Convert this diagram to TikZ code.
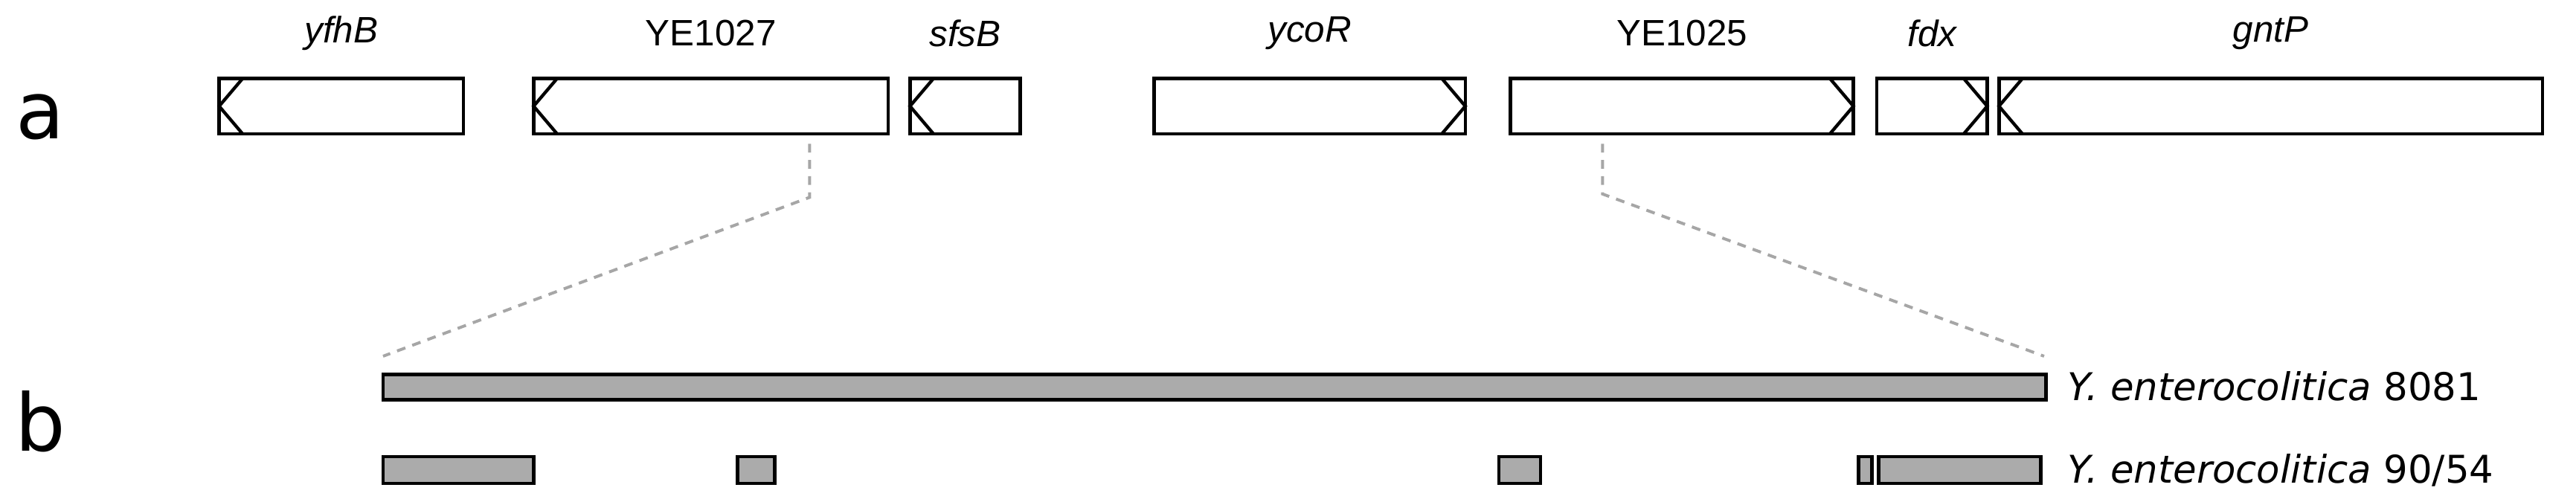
\documentclass[tikz,border=0pt]{standalone}
\usepackage{fontspec}
\setmainfont{Liberation Sans}
\newfontfamily\dv{DejaVu Sans}
\begin{document}
\begin{tikzpicture}[x=0.02cm,y=-0.02cm,
  gene/.style={draw=black,line width=1.2pt,fill=white},
  chev/.style={line width=1.1pt},
  bar/.style={draw=black,line width=1.2pt,fill=black!33},
  glab/.style={font=\fontsize{12.5}{14}\selectfont},
  slab/.style={font=\dv\fontsize{13}{15}\selectfont,anchor=west},
  big/.style={font=\dv\fontsize{27}{30}\selectfont},
  zoomline/.style={draw=black!35,line width=1pt,dash pattern=on 3pt off 2.5pt}]
\useasboundingbox (0,0) rectangle (1540,300);
\def\gL#1#2#3#4{\draw[gene] (#2,47) rectangle (#3,80);
  \draw[chev] (#2+14,47) -- (#2,63.5) -- (#2+14,80);
  \node[glab] (#1) at ({(#2+#3)/2},20) {#4};}
\def\gR#1#2#3#4{\draw[gene] (#2,47) rectangle (#3,80);
  \draw[chev] (#3-14,47) -- (#3,63.5) -- (#3-14,80);
  \node[glab] (#1) at ({(#2+#3)/2},20) {#4};}
\gL{g1}{131}{277}{\itshape yfhB}
\gL{g2}{319}{531}{YE1027}
\gL{g3}{544}{610}{\itshape sfsB}
\gR{g4}{690}{876}{\itshape ycoR}
\gR{g5}{903}{1108}{YE1025}
\gR{g6}{1122}{1188}{\itshape fdx}
\gL{g7}{1195}{1520}{\itshape gntP}
\node[big] (a) at (24,70) {a};
\node[big] (b) at (24,252) {b};
\coordinate (p1) at (484,86); \coordinate (p2) at (484,118); \coordinate (p3) at (229,213);
\coordinate (q1) at (958,86); \coordinate (q2) at (958,116); \coordinate (q3) at (1222,213);
\draw[zoomline] (p1) -- (p2) -- (p3);
\draw[zoomline] (q1) -- (q2) -- (q3);
\draw[bar] (229,224) rectangle (1223,239);
\node[slab] (s1) at (1230,231) {\itshape Y. enterocolitica\upshape{} 8081};
\foreach \a/\b in {229/319,441/463,896/921,1111/1119,1123/1220}
  \draw[bar] (\a,273) rectangle (\b,289);
\node[slab] (s2) at (1230,281) {\itshape Y. enterocolitica\upshape{} 90/54};
\end{tikzpicture}
\end{document}
